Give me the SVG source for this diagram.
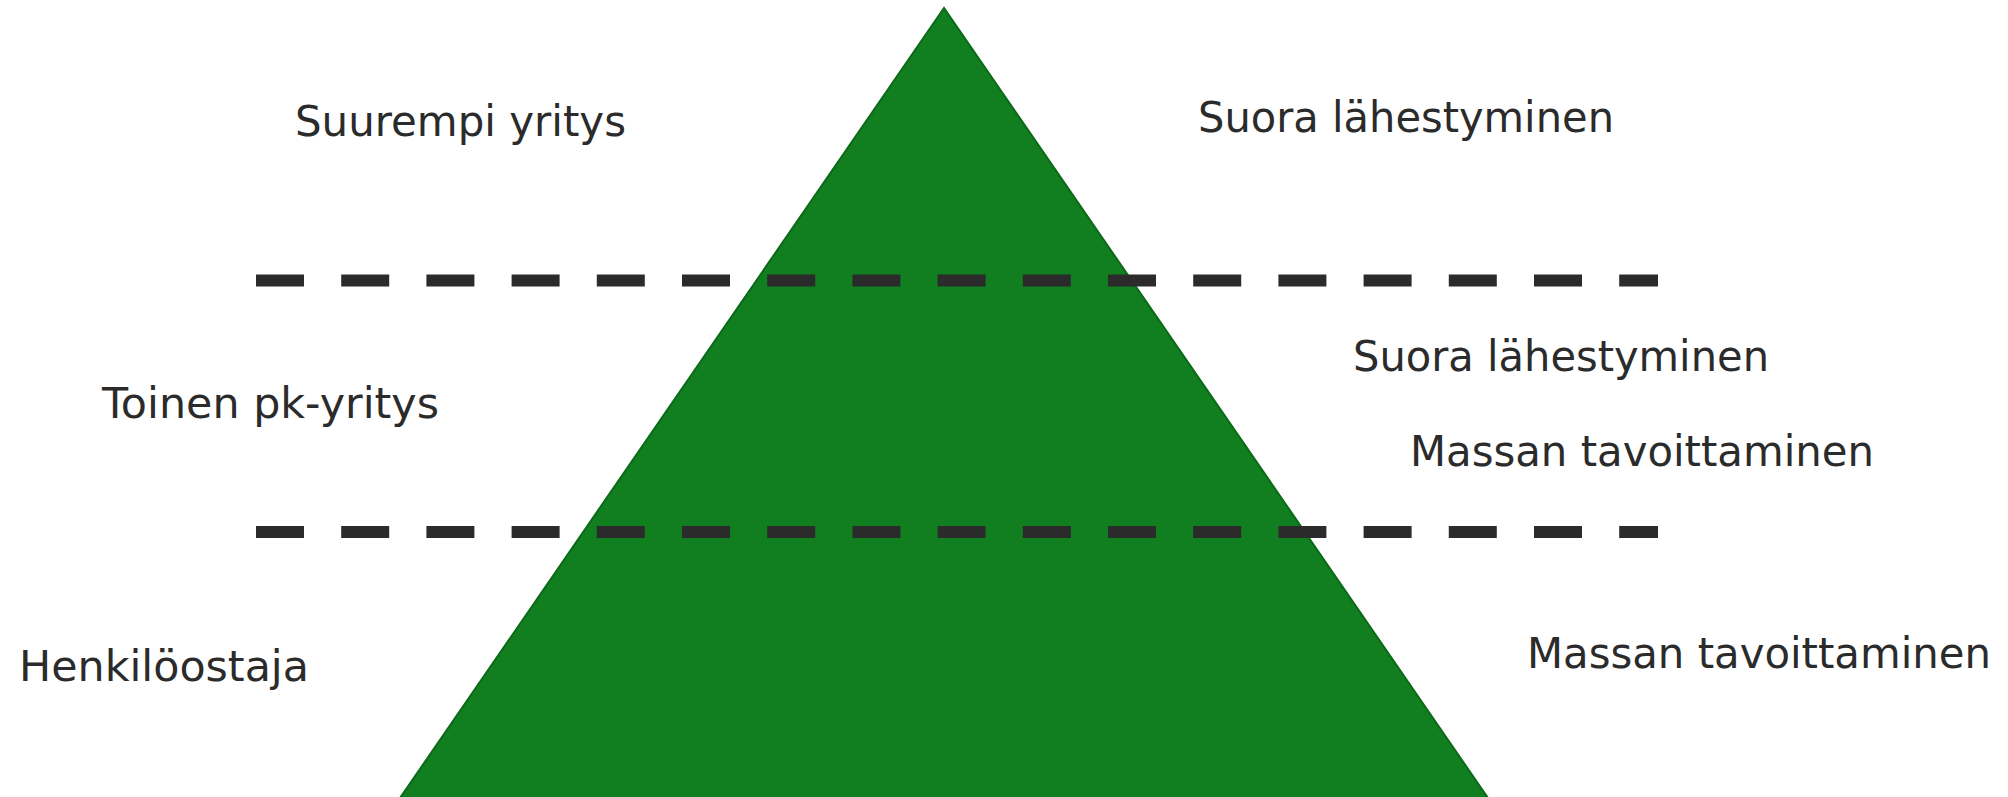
<svg xmlns="http://www.w3.org/2000/svg" width="2008" height="797" viewBox="0 0 2008 797">
  <style>
    .lbl { font-family: "DejaVu Sans", "Liberation Sans", sans-serif; font-size: 43.5px; fill: #2b2b2b; }
    .sep { stroke: #2b2b2b; stroke-width: 12; stroke-dasharray: 48 37.2; fill: none; }
  </style>
  <rect x="0" y="0" width="2008" height="797" fill="#ffffff"/>

  <g id="pyramid">
    <polygon points="944,8 400,798 1488,798" fill="#117f20" stroke="#0b6a18" stroke-width="2"/>
  </g>

  <g id="separators">
    <line class="sep" x1="256" y1="280.5" x2="1658" y2="280.5"/>
    <line class="sep" x1="256" y1="532" x2="1658" y2="532"/>
  </g>

  <g id="level-top">
    <text class="lbl" x="295" y="136" textLength="331" lengthAdjust="spacingAndGlyphs">Suurempi yritys</text>
    <text class="lbl" x="1198" y="132" textLength="416" lengthAdjust="spacingAndGlyphs">Suora lähestyminen</text>
  </g>

  <g id="level-middle">
    <text class="lbl" x="102" y="418" textLength="337" lengthAdjust="spacingAndGlyphs">Toinen pk-yritys</text>
    <text class="lbl" x="1353" y="371" textLength="416" lengthAdjust="spacingAndGlyphs">Suora lähestyminen</text>
    <text class="lbl" x="1410" y="466" textLength="464" lengthAdjust="spacingAndGlyphs">Massan tavoittaminen</text>
  </g>

  <g id="level-bottom">
    <text class="lbl" x="19" y="681" textLength="290" lengthAdjust="spacingAndGlyphs">Henkilöostaja</text>
    <text class="lbl" x="1527" y="668" textLength="464" lengthAdjust="spacingAndGlyphs">Massan tavoittaminen</text>
  </g>
</svg>
